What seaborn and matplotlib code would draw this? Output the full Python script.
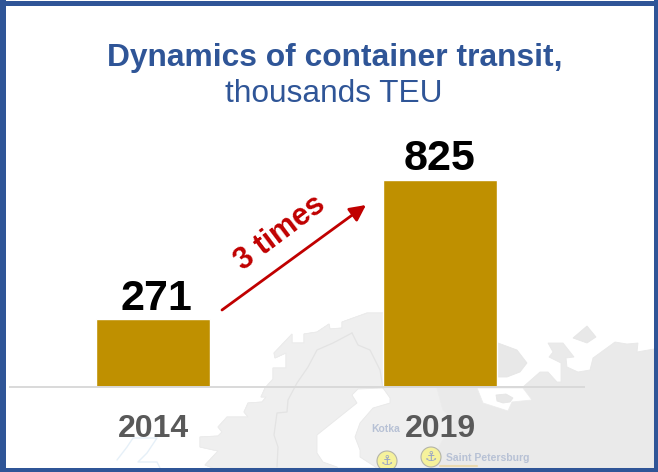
import matplotlib
matplotlib.use("Agg")
import matplotlib.pyplot as plt
from matplotlib.patches import Polygon, Rectangle, Circle
import seaborn as sns

years = ["2014", "2019"]
teu = [271, 825]

BLUE = "#2f5597"
GOLD = "#bf9000"
RED = "#c00000"

# background map outlines, traced in picture pixels
land = [(213, 468), (205, 465), (218, 451), (200, 447), (200, 437), (218, 436), (222, 432), (218, 427),
        (227, 417), (248, 417), (244, 412), (248, 403), (262, 402), (266, 397), (261, 397), (265, 388),
        (273, 379), (273, 368), (286, 368), (286, 353), (275, 358), (274, 353), (292, 334), (292, 343),
        (304, 343), (304, 334), (317, 332), (329, 324), (330, 329), (342, 328), (342, 322), (367, 313),
        (383, 313), (440, 330), (497, 387), (523, 387), (540, 372), (548, 372), (557, 382), (561, 382),
        (561, 363), (549, 357), (553, 352), (548, 343), (563, 343), (574, 357), (566, 358), (567, 367),
        (578, 372), (590, 370), (593, 358), (615, 342), (627, 344), (638, 343), (637, 352), (654, 349),
        (654, 468)]
west = land[:33] + [(437, 388), (443, 410), (455, 420), (440, 445), (430, 468)]
gulf = [(358, 389), (352, 395), (357, 403), (317, 435), (317, 453), (323, 462), (337, 467), (338, 468),
        (377, 468), (360, 457), (360, 450), (355, 437), (360, 423), (373, 408), (390, 403), (390, 398),
        (383, 388)]
ladoga_gap = [(477, 388), (483, 403), (508, 411), (512, 402), (532, 400), (523, 388)]
lakes = [[(498, 343), (517, 350), (527, 363), (520, 372), (507, 377), (498, 377)],
         [(496, 395), (506, 394), (513, 398), (510, 402), (503, 403), (497, 401)],
         [(573, 338), (587, 326), (596, 337), (587, 343)]]
borders = [[(352, 333), (333, 343), (317, 350), (308, 367), (297, 383), (288, 400), (287, 412), (277, 413),
            (274, 435), (278, 447), (277, 467)],
           [(352, 333), (358, 345), (370, 350), (380, 370), (383, 388)]]
faint_coast = [(117, 460), (127, 447), (133, 438), (157, 438), (147, 453), (138, 462), (157, 462), (160, 468)]

sns.set_theme(style="white")
plt.rcParams["font.family"] = "Liberation Sans"

fig = plt.figure(figsize=(6.58, 4.72), dpi=100)

# full-figure axes in pixels for the map and the frame
bg = fig.add_axes([0, 0, 1, 1], zorder=0)
bg.set_xlim(0, 658)
bg.set_ylim(472, 0)
bg.axis("off")

bg.add_patch(Polygon(land, facecolor="#eaeaea", edgecolor="#e8e8e8", lw=0.6))
bg.add_patch(Polygon(west, facecolor="#efefef", edgecolor="#ebebeb", lw=0.6))
bg.add_patch(Polygon(gulf, facecolor="white", edgecolor="#e8e8e8", lw=0.6))
bg.add_patch(Polygon(ladoga_gap, facecolor="white", edgecolor="#ececec", lw=0.6))
for lake in lakes:
    bg.add_patch(Polygon(lake, facecolor="#e8e8e8", edgecolor="#e6e6e6", lw=0.6))
for line in borders:
    bg.plot(*zip(*line), color="#e3e3e3", lw=0.9)
bg.plot(*zip(*faint_coast), color="#e6f0f8", lw=1.0)

# ports
for cx, cy in [(387, 461), (431, 457)]:
    bg.add_patch(Circle((cx, cy), 10, facecolor="#f6f29c", edgecolor="#b4b4a8", lw=0.8))
    bg.text(cx, cy, "\u2693", family="DejaVu Sans", fontsize=10, color="#97a3c6", ha="center", va="center")
bg.plot([440, 477], [466, 466], color="#ead9b0", lw=1.5)
bg.text(371, 429, "Kotka", fontsize=7.5, fontweight="bold", color="#b7c1d5", va="center")
bg.text(446, 458, "Saint Petersburg", fontsize=7.5, fontweight="bold", color="#b7c1d5", va="center")

for x, y, w, h in [(0, 0.7, 658, 5.3), (0, 468, 658, 4), (0, 0, 6, 472), (654, 0, 4, 472)]:
    bg.add_patch(Rectangle((x, y), w, h, facecolor=BLUE, edgecolor="none", zorder=5))

# bars
ax = fig.add_axes([9.5 / 658, 85 / 472, 574 / 658, 225 / 472], zorder=1)
ax.patch.set_alpha(0)
sns.barplot(x=years, y=teu, color=GOLD, saturation=1, width=0.4, ax=ax)
ax.set_xlim(-0.5, 1.5)
ax.set_ylim(0, 897)
ax.set_yticks([])
sns.despine(ax=ax, left=True)
ax.spines["bottom"].set_color("#d9d9d9")
ax.spines["bottom"].set_linewidth(1.4)
ax.tick_params(axis="x", length=0, pad=19.5)
for label in ax.get_xticklabels():
    label.set_fontsize(23)
    label.set_fontweight("bold")
    label.set_color("#595959")
bar_labels = ax.bar_label(ax.containers[0], fontsize=31, fontweight="bold", color="black", padding=1)
bar_labels[0].xyann = (2.5, 0)

fig.text(334.5 / 658, 1 - 58 / 472, "Dynamics of container transit,", fontsize=22.9, fontweight="bold",
         color=BLUE, ha="center", va="center")
fig.text(334 / 658, 1 - 94 / 472, "thousands TEU", fontsize=22.8, color=BLUE, ha="center", va="center")

# growth arrow
bg.annotate("", xy=(366, 205), xytext=(222, 310),
            arrowprops=dict(arrowstyle="-|>,head_length=0.8,head_width=0.4", color=RED, lw=2,
                            shrinkA=0, shrinkB=0))
bg.text(280, 233, "3 times", fontsize=22, fontweight="bold", color=RED, rotation=37,
        rotation_mode="anchor", ha="center", va="center")

fig.savefig("out.png", dpi=100)
